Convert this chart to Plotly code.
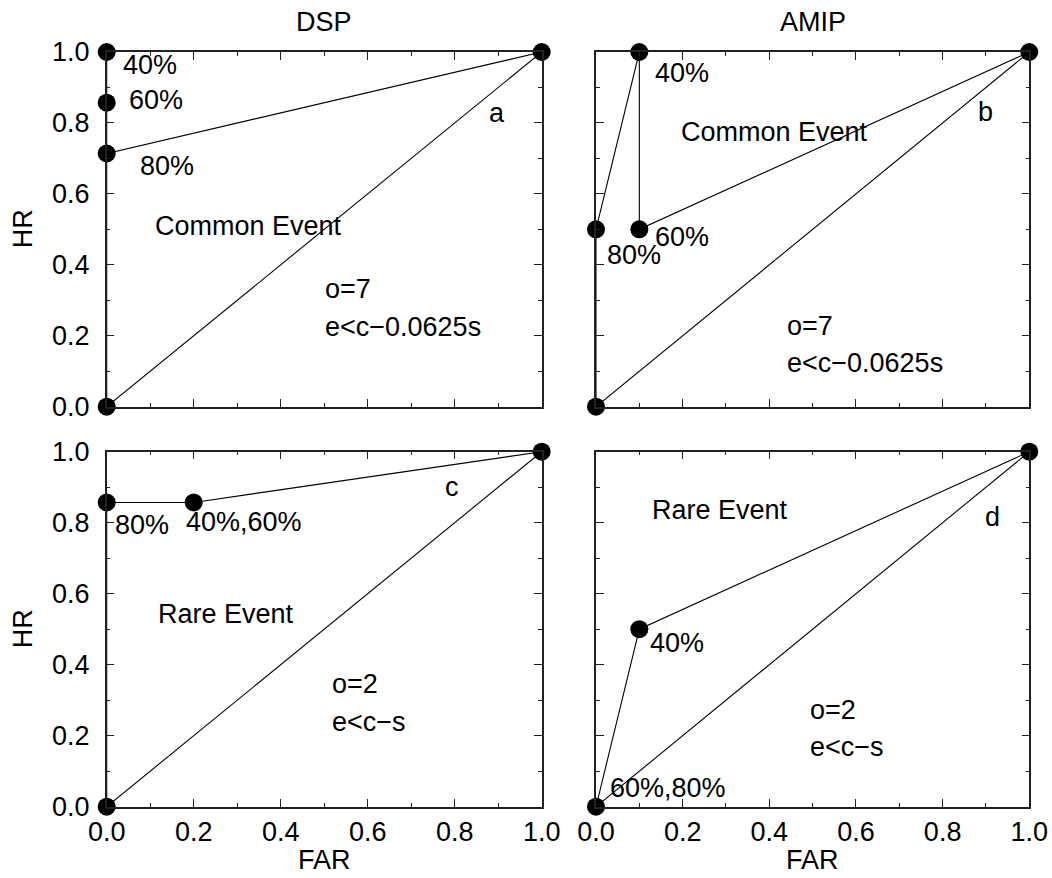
import plotly.graph_objects as go

# ---- data ----
column_titles = ["DSP", "AMIP"]
panel_letters = ["a", "b", "c", "d"]

# ROC points (FAR, HR) for each panel, in drawing order of the connecting line
a_far = [0.0, 0.0, 0.0, 0.0, 1.0]
a_hr = [0.0, 1.0, 0.857, 0.714, 1.0]
b_far = [0.0, 0.0, 0.1, 0.1, 1.0]
b_hr = [0.0, 0.5, 1.0, 0.5, 1.0]
c_far = [0.0, 0.0, 0.2, 1.0]
c_hr = [0.0, 0.857, 0.857, 1.0]
d_far = [0.0, 0.1, 1.0]
d_hr = [0.0, 0.5, 1.0]
diag = [0.0, 1.0]

# point labels: (text, FAR, HR, anchor)
a_labels = [("40%", 0.0995, 0.963, "center"), ("60%", 0.113, 0.864, "center"),
            ("80%", 0.139, 0.679, "center"), ("a", 0.897, 0.827, "center"),
            ("Common Event", 0.325, 0.51, "center"),
            ("o=7", 0.497, 0.331, "left"), ("e<c\u22120.0625s", 0.497, 0.225, "left")]
b_labels = [("40%", 0.199, 0.941, "center"), ("60%", 0.199, 0.479, "center"),
            ("80%", 0.088, 0.428, "center"), ("b", 0.898, 0.831, "center"),
            ("Common Event", 0.411, 0.775, "center"),
            ("o=7", 0.436, 0.227, "left"), ("e<c\u22120.0625s", 0.436, 0.123, "left")]
c_labels = [("80%", 0.082, 0.794, "center"), ("40%,60%", 0.316, 0.803, "center"),
            ("c", 0.793, 0.901, "center"), ("Rare Event", 0.274, 0.542, "center"),
            ("o=2", 0.513, 0.345, "left"), ("e<c\u2212s", 0.513, 0.239, "left")]
d_labels = [("Rare Event", 0.287, 0.836, "center"), ("d", 0.916, 0.817, "center"),
            ("40%", 0.186, 0.46, "center"), ("60%,80%", 0.166, 0.052, "center"),
            ("o=2", 0.49, 0.272, "left"), ("e<c\u2212s", 0.49, 0.167, "left")]

tick_vals = [0.0, 0.2, 0.4, 0.6, 0.8, 1.0]

# ---- layout geometry ----
W, H = 1052, 878
FONT = "Liberation Sans, Arial, Helvetica, sans-serif"
FS = 27
x_dom = [[106.7 / W, 541.7 / W], [596 / W, 1029.3 / W]]
y_dom = [[1 - 406.7 / H, 1 - 52 / H], [1 - 806.7 / H, 1 - 451.7 / H]]

fig = go.Figure()

panels = [
    (a_far, a_hr, a_labels, 0, 0),
    (b_far, b_hr, b_labels, 0, 1),
    (c_far, c_hr, c_labels, 1, 0),
    (d_far, d_hr, d_labels, 1, 1),
]

annotations = []
for i, (far, hr, labels, row, col) in enumerate(panels):
    k = i + 1
    xa = "x" if k == 1 else f"x{k}"
    ya = "y" if k == 1 else f"y{k}"
    # diagonal
    fig.add_trace(go.Scatter(x=diag, y=diag, mode="lines", xaxis=xa, yaxis=ya,
                             line=dict(color="black", width=1.1), showlegend=False,
                             cliponaxis=False, hoverinfo="skip"))
    # ROC curve with markers
    fig.add_trace(go.Scatter(x=far, y=hr, mode="lines+markers", xaxis=xa, yaxis=ya,
                             line=dict(color="black", width=1.1),
                             marker=dict(color="black", size=18),
                             showlegend=False, cliponaxis=False))
    for (txt, fx, hy, anc) in labels:
        annotations.append(dict(text=txt, x=fx, y=hy, xref=xa, yref=ya,
                                xanchor=anc, yanchor="middle", showarrow=False,
                                font=dict(family=FONT, size=FS, color="black")))

    axis_common = dict(range=[0, 1], showgrid=False, zeroline=False, automargin=False,
                       showline=True, linecolor="#222", linewidth=1.5, mirror="ticks",
                       ticks="inside", ticklen=8, tickwidth=1.2, tickcolor="#222",
                       tickvals=tick_vals, tickformat=".1f",
                       minor=dict(ticks="inside", ticklen=4, dtick=0.1, tickcolor="#222", tickwidth=1.2),
                       tickfont=dict(family=FONT, size=FS, color="black"),
                       fixedrange=True)
    xkey = "xaxis" if k == 1 else f"xaxis{k}"
    ykey = "yaxis" if k == 1 else f"yaxis{k}"
    fig.update_layout(**{
        xkey: dict(axis_common, domain=x_dom[col], anchor=ya,
                   showticklabels=(row == 1), ticklabelstandoff=0),
        ykey: dict(axis_common, domain=y_dom[row], anchor=xa,
                   showticklabels=(col == 0), ticklabelstandoff=10),
    })

# column titles
for col, t in enumerate(column_titles):
    annotations.append(dict(text=t, x=(x_dom[col][0] + x_dom[col][1]) / 2, y=1 - 22 / H,
                            xref="paper", yref="paper", showarrow=False,
                            xanchor="center", yanchor="middle",
                            font=dict(family=FONT, size=FS, color="black")))
# axis titles
for row in range(2):
    annotations.append(dict(text="HR", x=23 / W, y=(y_dom[row][0] + y_dom[row][1]) / 2,
                            xref="paper", yref="paper", showarrow=False, textangle=-90,
                            xanchor="center", yanchor="middle",
                            font=dict(family=FONT, size=FS, color="black")))
for col in range(2):
    annotations.append(dict(text="FAR", x=(x_dom[col][0] + x_dom[col][1]) / 2, y=1 - 860 / H,
                            xref="paper", yref="paper", showarrow=False,
                            xanchor="center", yanchor="middle",
                            font=dict(family=FONT, size=FS, color="black")))

fig.update_layout(width=W, height=H, margin=dict(l=0, r=0, t=0, b=0, autoexpand=False),
                  paper_bgcolor="white", plot_bgcolor="white",
                  annotations=annotations, showlegend=False)

fig.write_html("out.html")
